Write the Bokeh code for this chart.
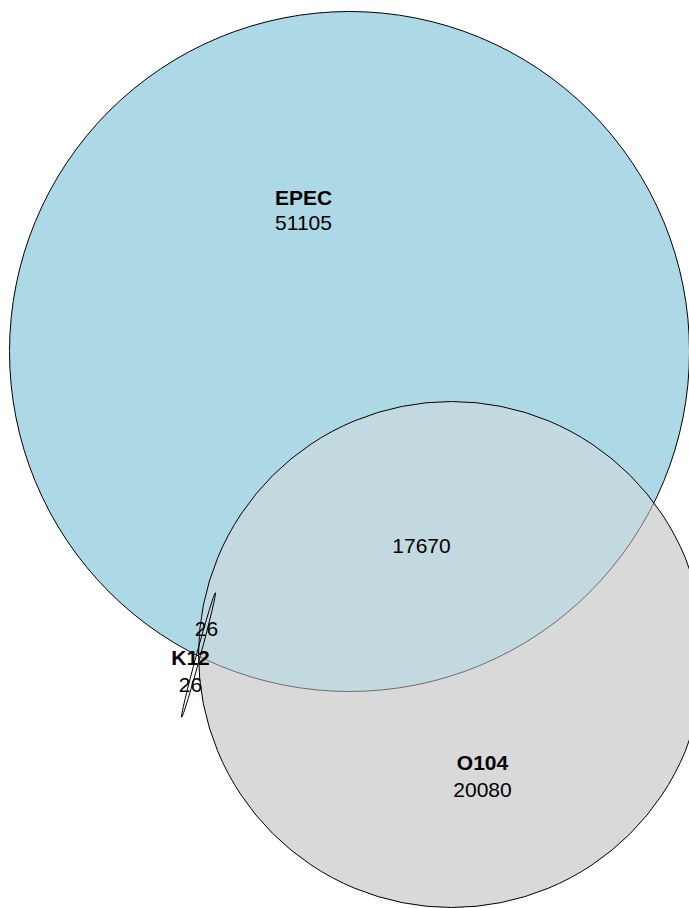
from bokeh.plotting import figure
from bokeh.models import Range1d
from bokeh.core.properties import value
from bokeh.embed import file_html
from bokeh.resources import INLINE
import math

W, H = 689, 908

# Venn sets: names, region counts
set_names = ["EPEC", "O104", "K12"]
only_counts = [51105, 20080, 26]
overlap_epec_o104 = 17670
k12_shared = [26, 26]

# circle layout (x, y, radius) in canvas units, y upward
epec_circle = (349, 557, 340)
o104_circle = (451, 254, 253)
# K12 as a very thin ellipse (x, y, length, thickness, angle in degrees)
k12_ellipse = (198, 253.5, 129, 4, 74.8)

p = figure(width=W, height=H, output_backend="svg", toolbar_location=None,
           x_range=Range1d(0, W), y_range=Range1d(0, H),
           min_border=0, min_border_left=0, min_border_right=0,
           min_border_top=0, min_border_bottom=0)
p.axis.visible = False
p.grid.visible = False
p.outline_line_color = None
p.background_fill_color = "white"
p.border_fill_color = "white"

grey = "#D9D9D9"
blue = "#ADD8E6"

# O104 solid base, EPEC on top, then translucent O104 to tint the overlap
p.circle(x=[o104_circle[0]], y=[o104_circle[1]], radius=o104_circle[2],
         fill_color=grey, line_color=None)
p.circle(x=[epec_circle[0]], y=[epec_circle[1]], radius=epec_circle[2],
         fill_color=blue, line_color="black", line_width=1)
p.circle(x=[o104_circle[0]], y=[o104_circle[1]], radius=o104_circle[2],
         fill_color=grey, fill_alpha=0.5, line_color="black", line_width=1)

kx, ky, kl, kt, ka = k12_ellipse
p.ellipse(x=[kx], y=[ky], width=kl, height=kt, angle=math.radians(ka),
          fill_color=None, line_color="black", line_width=1)

font = value("Liberation Sans")
fs = "21px"

def label(x, y, s, bold=False):
    p.text(x=[x], y=[y], text=[s], text_font=font, text_font_size=fs,
           text_font_style="bold" if bold else "normal",
           text_align="center", text_baseline="middle", text_color="black")

label(303, H - 197, set_names[0], bold=True)
label(303, H - 222, str(only_counts[0]))
label(482, H - 762, set_names[1], bold=True)
label(482, H - 789, str(only_counts[1]))
label(421, H - 545, str(overlap_epec_o104))
label(206, H - 628, str(k12_shared[0]))
label(190, H - 657, set_names[2], bold=True)
label(190, H - 684, str(k12_shared[1]))

open("out.html", "w").write(file_html(p, INLINE))
